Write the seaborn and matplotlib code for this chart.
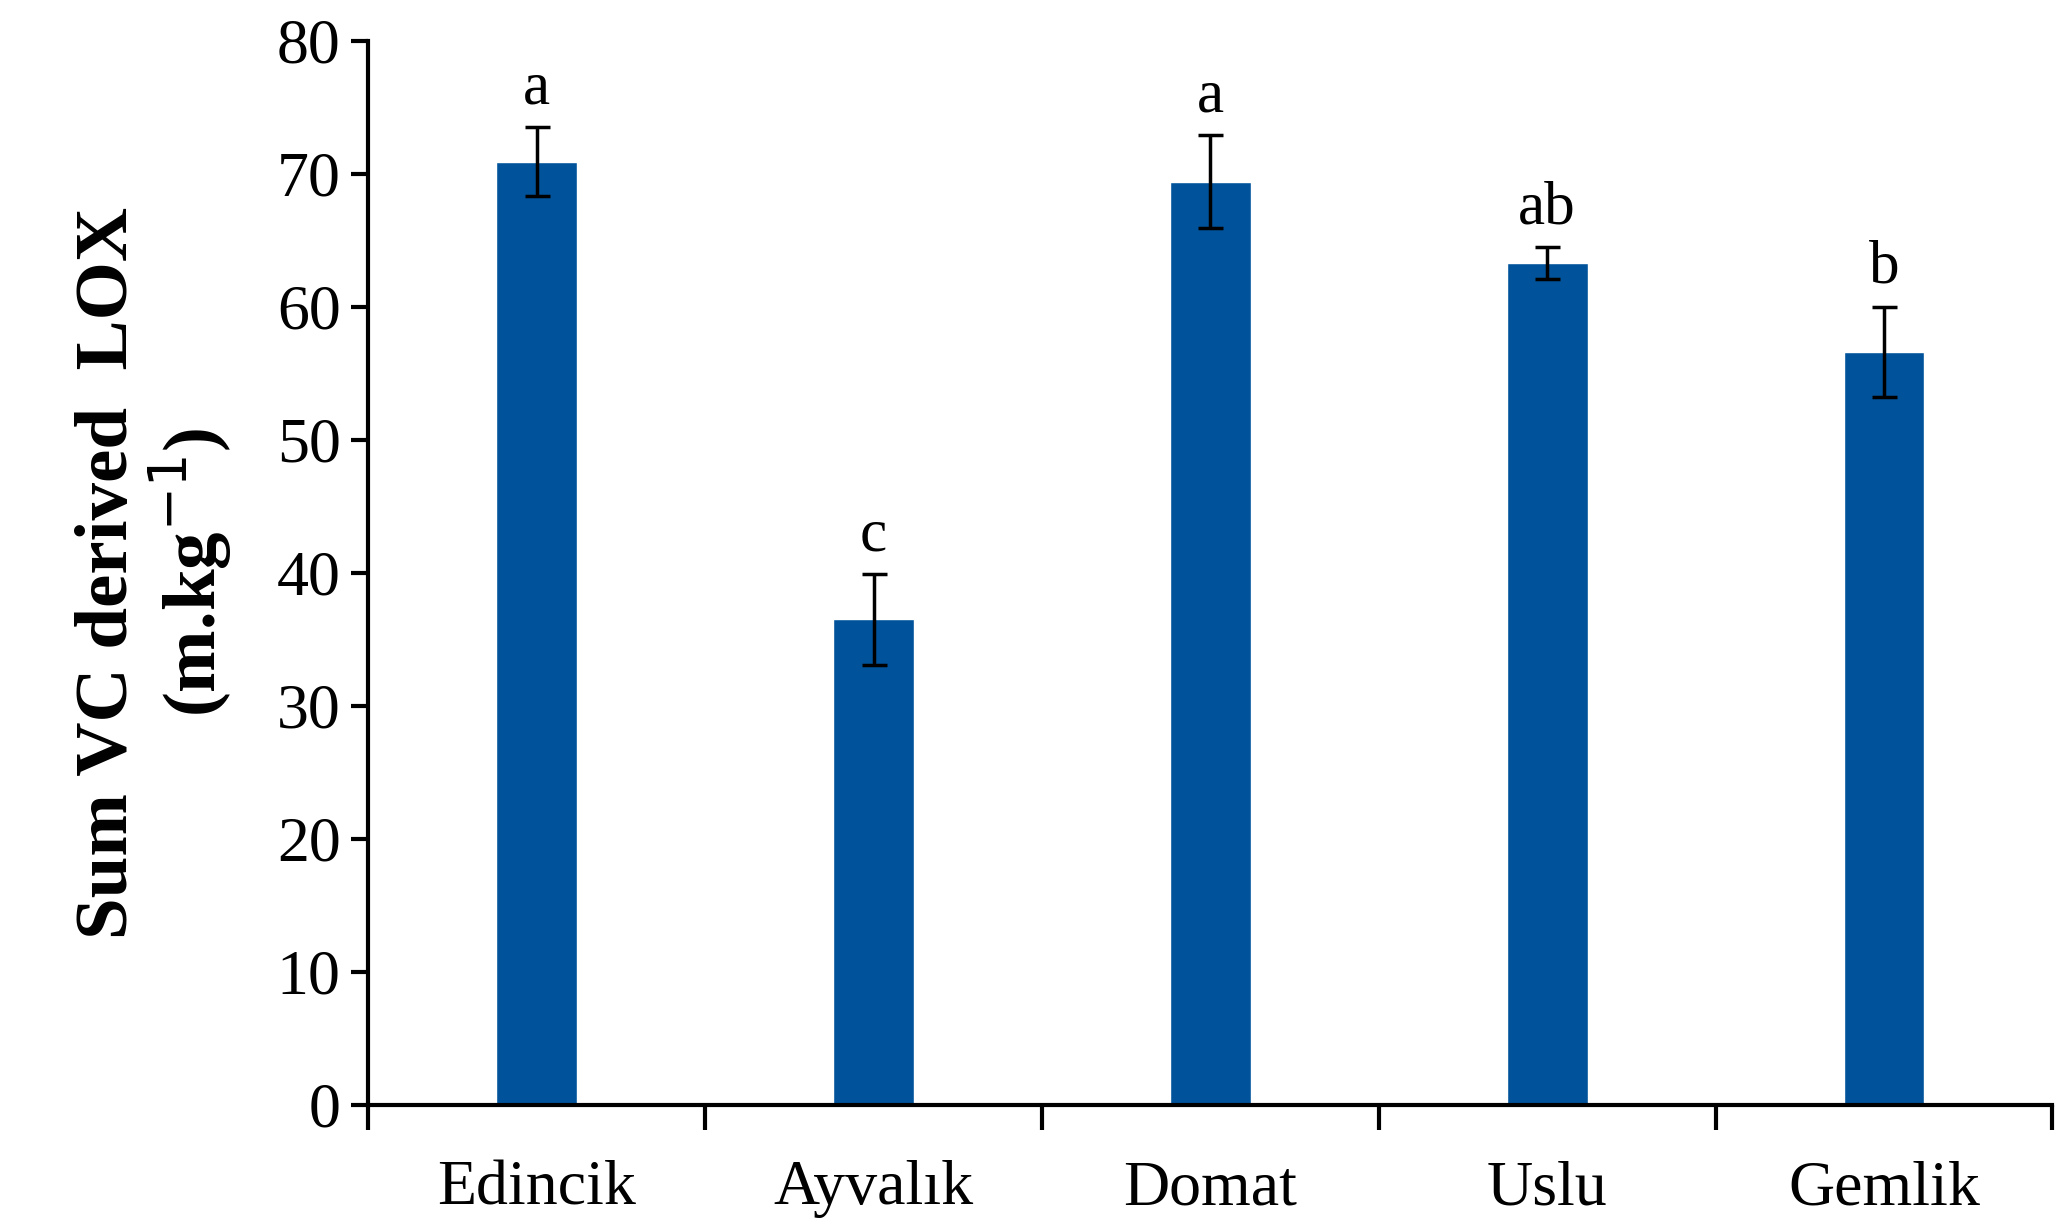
import matplotlib
matplotlib.use("Agg")
import matplotlib.pyplot as plt
import seaborn as sns
import numpy as np
import pandas as pd

cultivars = ["Edincik", "Ayvalık", "Domat", "Uslu", "Gemlik"]
values = [70.9, 36.5, 69.4, 63.3, 56.6]
errors = [2.6, 3.4, 3.5, 1.2, 3.4]
letters = ["a", "c", "a", "ab", "b"]

sns.set_theme(style="white")
plt.rcParams['font.family'] = ['Liberation Serif', 'DejaVu Serif']
plt.rcParams['text.color'] = 'black'
plt.rcParams['axes.labelcolor'] = 'black'
plt.rcParams['xtick.color'] = 'black'
plt.rcParams['ytick.color'] = 'black'

fig = plt.figure(figsize=(20.69, 12.29), dpi=100)
ax = fig.add_axes([0.178, 0.101, 0.814, 0.866])
df = pd.DataFrame({"c": cultivars, "v": values})
sns.barplot(data=df, x="c", y="v", color="#00539B", saturation=1, width=0.24, ax=ax, errorbar=None)
x = np.arange(len(cultivars))
ax.errorbar(x, values, yerr=errors, fmt="none", ecolor="black", elinewidth=2.5, capsize=9, capthick=2.5)
for xi, v, e, l in zip(x, values, errors, letters):
    ax.text(xi, v + e + 0.8, l, ha="center", va="bottom", fontsize=44)

ax.set_ylim(0, 80)
ax.set_xlim(-0.5, 4.5)
ax.set_yticks(range(0, 81, 10))
ax.tick_params(axis="y", labelsize=46, direction="out", length=12, width=3, left=True, pad=8)
ax.set_xticks(x)
ax.set_xticklabels(cultivars)
ax.tick_params(axis="x", labelsize=46, length=0, pad=40)
ax.set_xticks(np.arange(-0.5, 5, 1), minor=True)
ax.tick_params(axis="x", which="minor", length=18, width=3, direction="out", bottom=True)
for s in ["top", "right"]:
    ax.spines[s].set_visible(False)
for s in ["left", "bottom"]:
    ax.spines[s].set_color("black")
    ax.spines[s].set_linewidth(3)
ax.set_xlabel("")
ax.set_ylabel("Sum VC derived  LOX\n(m.kg$^{-1}$)", fontsize=54, fontweight="bold", labelpad=30, linespacing=1.05)
fig.savefig("out.png", dpi=100)
